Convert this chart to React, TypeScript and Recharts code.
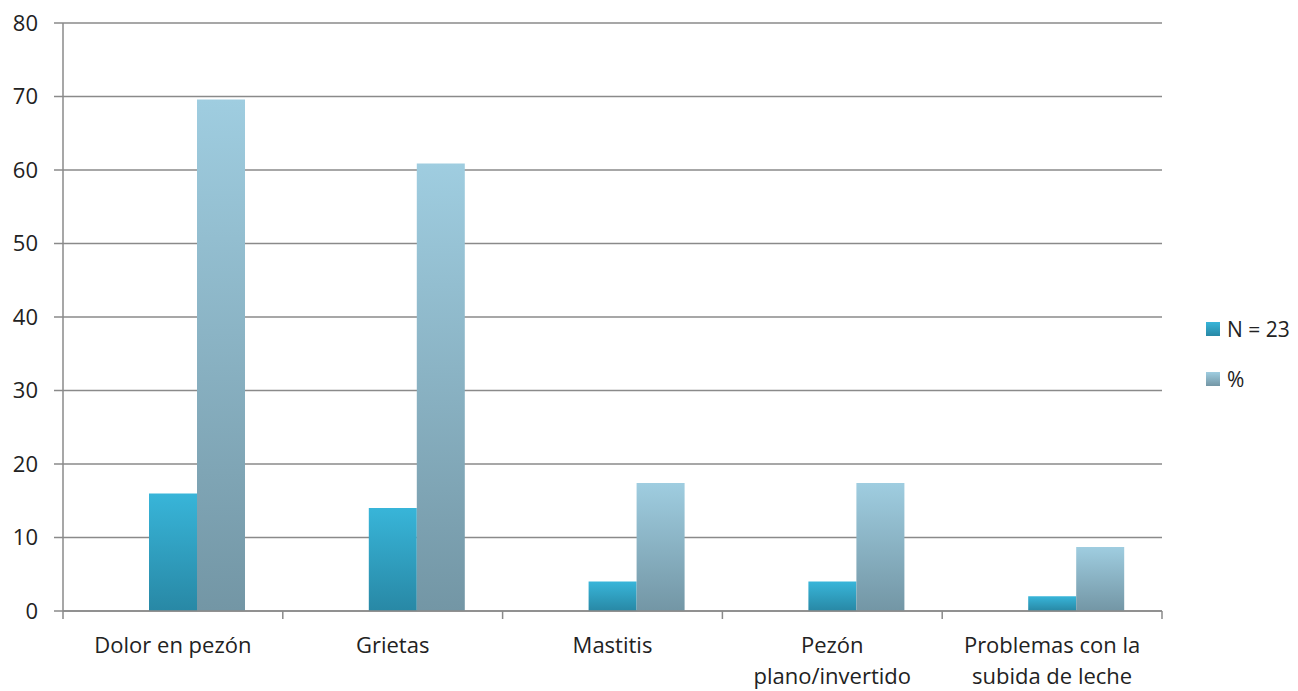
import React from 'react'
import { BarChart, Bar, XAxis, YAxis, CartesianGrid } from 'recharts'

const categories = ['Dolor en pezón', 'Grietas', 'Mastitis', 'Pezón\nplano/invertido', 'Problemas con la\nsubida de leche']
const countValues = [16, 14, 4, 4, 2]
const percentValues = [69.6, 60.9, 17.4, 17.4, 8.7]
const yTicks = [0, 10, 20, 30, 40, 50, 60, 70, 80]

const data = categories.map((name, i) => ({
  name,
  blank: null,
  count: countValues[i],
  percent: percentValues[i],
}))

const W = 1298
const H = 691
const margin = { top: 23, right: 136, bottom: 0, left: 0 }
const yAxisWidth = 63
const plotWidth = W - margin.right - yAxisWidth
const band = plotWidth / categories.length
const font = '"Open Sans", sans-serif'
const textColor = '#222'
const lineColor = '#8a8a8a'

function CategoryTick(props: any) {
  const { x, y, payload, index } = props
  const lines = String(payload.value).split('\n')
  const left = x - band / 2
  return (
    <g>
      <line x1={left} x2={left} y1={y} y2={y + 8} stroke={lineColor} strokeWidth={1.5} />
      {index === categories.length - 1 && (
        <line x1={left + band} x2={left + band} y1={y} y2={y + 8} stroke={lineColor} strokeWidth={1.5} />
      )}
      <text x={x} y={y + 42} textAnchor="middle" fontFamily={font} fontSize={22} fill={textColor}>
        {lines.map((l, i) => (
          <tspan key={i} x={x} dy={i === 0 ? 0 : 31}>{l}</tspan>
        ))}
      </text>
    </g>
  )
}

export default function App() {
  return (
    <div style={{ position: 'absolute', left: 0, top: 0, width: W, height: H, background: '#fff' }}>
      <BarChart width={W} height={H} data={data} margin={margin} barGap={0} barSize={48}>
        <defs>
          <linearGradient id="gCount" x1="0" y1="0" x2="0" y2="1">
            <stop offset="0%" stopColor="#38b5d9" />
            <stop offset="100%" stopColor="#2888a5" />
          </linearGradient>
          <linearGradient id="gPercent" x1="0" y1="0" x2="0" y2="1">
            <stop offset="0%" stopColor="#9fcde0" />
            <stop offset="100%" stopColor="#7396a5" />
          </linearGradient>
        </defs>
        <CartesianGrid vertical={false} stroke={lineColor} strokeWidth={1.5} />
        <XAxis
          dataKey="name"
          height={80}
          interval={0}
          tickSize={0}
          tickMargin={0}
          tickLine={false}
          axisLine={{ stroke: lineColor, strokeWidth: 1.5 }}
          tick={<CategoryTick />}
        />
        <YAxis
          width={yAxisWidth}
          domain={[0, 80]}
          ticks={yTicks}
          interval={0}
          tickSize={9}
          tickMargin={16}
          tickLine={{ stroke: lineColor, strokeWidth: 1.5 }}
          axisLine={{ stroke: lineColor, strokeWidth: 1.5 }}
          tick={{ fontFamily: font, fontSize: 22, fill: textColor }}
        />
        <Bar dataKey="blank" fill="none" isAnimationActive={false} />
        <Bar dataKey="count" fill="url(#gCount)" isAnimationActive={false} />
        <Bar dataKey="percent" fill="url(#gPercent)" isAnimationActive={false} />
      </BarChart>
      <div style={{ position: 'absolute', left: 1206, top: 315, fontFamily: font, fontSize: 21, color: textColor }}>
        <div style={{ display: 'flex', alignItems: 'center', height: 28 }}>
          <span style={{ width: 14, height: 14, background: 'linear-gradient(#38b5d9, #2888a5)', marginRight: 7 }} />
          N = 23
        </div>
        <div style={{ display: 'flex', alignItems: 'center', height: 28, marginTop: 22 }}>
          <span style={{ width: 14, height: 14, background: 'linear-gradient(#9fcde0, #7396a5)', marginRight: 7 }} />
          %
        </div>
      </div>
    </div>
  )
}
